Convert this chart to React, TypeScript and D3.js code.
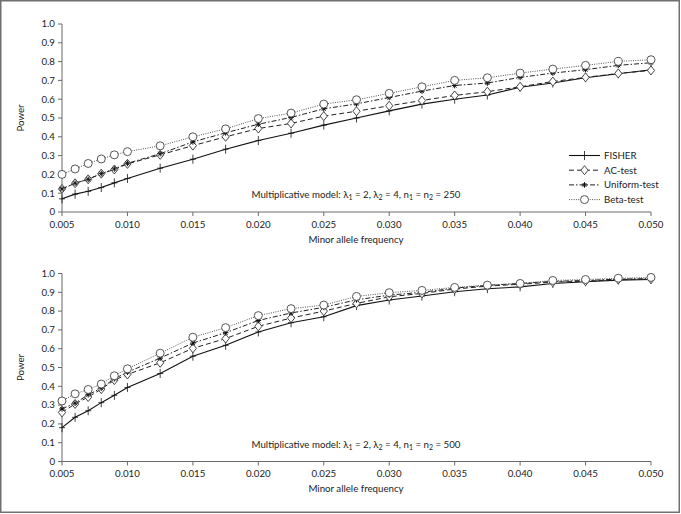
import React from "react";
import * as d3 from "d3";

const mafs = [0.005, 0.006, 0.007, 0.008, 0.009, 0.010, 0.0125, 0.015, 0.0175, 0.020, 0.0225, 0.025, 0.0275, 0.030, 0.0325, 0.035, 0.0375, 0.040, 0.0425, 0.045, 0.0475, 0.050];
const xTicks = [0.005, 0.010, 0.015, 0.020, 0.025, 0.030, 0.035, 0.040, 0.045, 0.050];
const yTicks = [0, 0.1, 0.2, 0.3, 0.4, 0.5, 0.6, 0.7, 0.8, 0.9, 1.0];
const seriesNames = ["FISHER", "AC-test", "Uniform-test", "Beta-test"];

const fisher250 = [0.07, 0.095, 0.11, 0.13, 0.155, 0.178, 0.233, 0.281, 0.334, 0.38, 0.419, 0.462, 0.50, 0.538, 0.574, 0.60, 0.622, 0.664, 0.686, 0.714, 0.735, 0.757];
const ac250 = [0.123, 0.153, 0.174, 0.204, 0.226, 0.256, 0.304, 0.353, 0.40, 0.444, 0.471, 0.51, 0.536, 0.565, 0.593, 0.62, 0.64, 0.666, 0.694, 0.716, 0.737, 0.753];
const uniform250 = [0.123, 0.153, 0.174, 0.204, 0.229, 0.259, 0.31, 0.373, 0.421, 0.467, 0.503, 0.549, 0.575, 0.609, 0.643, 0.673, 0.686, 0.716, 0.739, 0.757, 0.78, 0.794];
const beta250 = [0.20, 0.229, 0.258, 0.282, 0.304, 0.321, 0.352, 0.40, 0.442, 0.497, 0.526, 0.574, 0.597, 0.631, 0.666, 0.70, 0.714, 0.739, 0.76, 0.78, 0.801, 0.81];

const fisher500 = [0.18, 0.235, 0.27, 0.313, 0.352, 0.394, 0.468, 0.56, 0.618, 0.689, 0.738, 0.77, 0.829, 0.859, 0.88, 0.903, 0.919, 0.929, 0.947, 0.956, 0.965, 0.968];
const ac500 = [0.261, 0.306, 0.343, 0.385, 0.433, 0.463, 0.525, 0.602, 0.654, 0.719, 0.763, 0.80, 0.841, 0.876, 0.894, 0.917, 0.933, 0.943, 0.954, 0.959, 0.968, 0.97];
const uniform500 = [0.28, 0.31, 0.355, 0.39, 0.44, 0.475, 0.55, 0.63, 0.685, 0.75, 0.79, 0.82, 0.86, 0.885, 0.90, 0.922, 0.937, 0.947, 0.958, 0.963, 0.97, 0.973];
const beta500 = [0.322, 0.36, 0.383, 0.412, 0.456, 0.493, 0.576, 0.661, 0.712, 0.776, 0.813, 0.832, 0.878, 0.898, 0.91, 0.926, 0.938, 0.947, 0.963, 0.968, 0.975, 0.979];

const FONT = "Lato, 'Open Sans', sans-serif";
const AXIS = "#6a6a6a";
const FS = 9.7;

type Style = { dash: string; color: string; marker: string; width: number };
const styles: Style[] = [
  { dash: "none", color: "#111", marker: "plus", width: 1.1 },
  { dash: "5,3", color: "#222", marker: "diamond", width: 1 },
  { dash: "5,2,1.5,2", color: "#222", marker: "star", width: 1 },
  { dash: "1,1.3", color: "#555", marker: "circle", width: 1 },
];

function Marker({ kind, x, y, color }: { kind: string; x: number; y: number; color: string }) {
  if (kind === "plus") {
    return (
      <g stroke={color} strokeWidth={0.8}>
        <line x1={x} x2={x} y1={y - 4.5} y2={y + 4.5} />
        <line x1={x - 3} x2={x + 3} y1={y} y2={y} />
      </g>
    );
  }
  if (kind === "diamond") {
    const s = 4.5;
    return (
      <path d={`M${x},${y - s}L${x + 3.6},${y}L${x},${y + s}L${x - 3.6},${y}Z`} fill="#fff" stroke="#333" strokeWidth={0.9} />
    );
  }
  if (kind === "star") {
    const s = 2.8;
    return (
      <g stroke="#111" strokeWidth={1}>
        <line x1={x} x2={x} y1={y - s} y2={y + s} />
        <line x1={x - s} x2={x + s} y1={y} y2={y} />
        <line x1={x - s * 0.7} x2={x + s * 0.7} y1={y - s * 0.7} y2={y + s * 0.7} />
        <line x1={x - s * 0.7} x2={x + s * 0.7} y1={y + s * 0.7} y2={y - s * 0.7} />
      </g>
    );
  }
  return <circle cx={x} cy={y} r={4} fill="#fff" stroke="#444" strokeWidth={0.9} />;
}

function Panel({ top, data, n, legend }: { top: number; data: number[][]; n: number; legend: boolean }) {
  const x = d3.scaleLinear().domain([0.005, 0.05]).range([62, 651]);
  const y = d3.scaleLinear().domain([0, 1]).range([top + 188, top]);
  const line = d3.line<number>().x((_, i) => x(mafs[i])).y((v) => y(v));
  const y0 = y(0);
  return (
    <g>
      <line x1={x(0.005)} x2={x(0.05)} y1={y0} y2={y0} stroke={AXIS} strokeWidth={1} />
      <line x1={x(0.005)} x2={x(0.005)} y1={y(1)} y2={y0} stroke={AXIS} strokeWidth={1} />
      {yTicks.map((t) => (
        <g key={t}>
          <line x1={x(0.005) - 4} x2={x(0.005)} y1={y(t)} y2={y(t)} stroke={AXIS} />
          <text x={x(0.005) - 7} y={y(t)} dy="0.35em" textAnchor="end" fontSize={FS} fontFamily={FONT} fill="#222">
            {t === 0 ? "0" : d3.format(".1f")(t)}
          </text>
        </g>
      ))}
      {xTicks.map((t) => (
        <g key={t}>
          <line x1={x(t)} x2={x(t)} y1={y0} y2={y0 + 4} stroke={AXIS} />
          <text x={x(t)} y={y0 + 15.5} textAnchor="middle" fontSize={FS} fontFamily={FONT} fill="#222">
            {d3.format(".3f")(t)}
          </text>
        </g>
      ))}
      <text x={356} y={y0 + 30.5} textAnchor="middle" fontSize={FS} fontFamily={FONT} fill="#222">
        Minor allele frequency
      </text>
      <text transform={`translate(24,${top + 94}) rotate(-90)`} textAnchor="middle" fontSize={FS} fontFamily={FONT} fill="#222">
        Power
      </text>
      <text x={356} y={y0 - 14} textAnchor="middle" fontSize={FS} fontFamily={FONT} fill="#222">
        <tspan>Multiplicative model: λ</tspan>
        <tspan fontSize={7} dy={2}>1</tspan>
        <tspan dy={-2}> = 2, λ</tspan>
        <tspan fontSize={7} dy={2}>2</tspan>
        <tspan dy={-2}> = 4, n</tspan>
        <tspan fontSize={7} dy={2}>1</tspan>
        <tspan dy={-2}> = n</tspan>
        <tspan fontSize={7} dy={2}>2</tspan>
        <tspan dy={-2}>{` = ${n}`}</tspan>
      </text>
      {data.map((vals, si) => (
        <path key={si} d={line(vals) || ""} fill="none" stroke={styles[si].color} strokeWidth={styles[si].width} strokeDasharray={styles[si].dash} />
      ))}
      {data.map((vals, si) =>
        vals.map((v, i) => <Marker key={`${si}-${i}`} kind={styles[si].marker} x={x(mafs[i])} y={y(v)} color={styles[si].color} />)
      )}
      {legend &&
        seriesNames.map((name, si) => {
          const ly = top + 131.5 + si * 14.7;
          return (
            <g key={name}>
              <line x1={569} x2={600} y1={ly} y2={ly} stroke={styles[si].color} strokeWidth={styles[si].width} strokeDasharray={styles[si].dash} />
              <Marker kind={styles[si].marker} x={584.5} y={ly} color={styles[si].color} />
              <text x={604} y={ly} dy="0.35em" fontSize={FS} fontFamily={FONT} fill="#222">
                {name}
              </text>
            </g>
          );
        })}
    </g>
  );
}

export default function App() {
  return (
    <svg width={681} height={514} style={{ position: "absolute", left: 0, top: 0, background: "#fff" }}>
      <rect x={0.75} y={0.75} width={678.5} height={511.5} fill="#fff" stroke="#707070" strokeWidth={1.5} />
      <Panel top={24} data={[fisher250, ac250, uniform250, beta250]} n={250} legend={true} />
      <Panel top={273.5} data={[fisher500, ac500, uniform500, beta500]} n={500} legend={false} />
    </svg>
  );
}
